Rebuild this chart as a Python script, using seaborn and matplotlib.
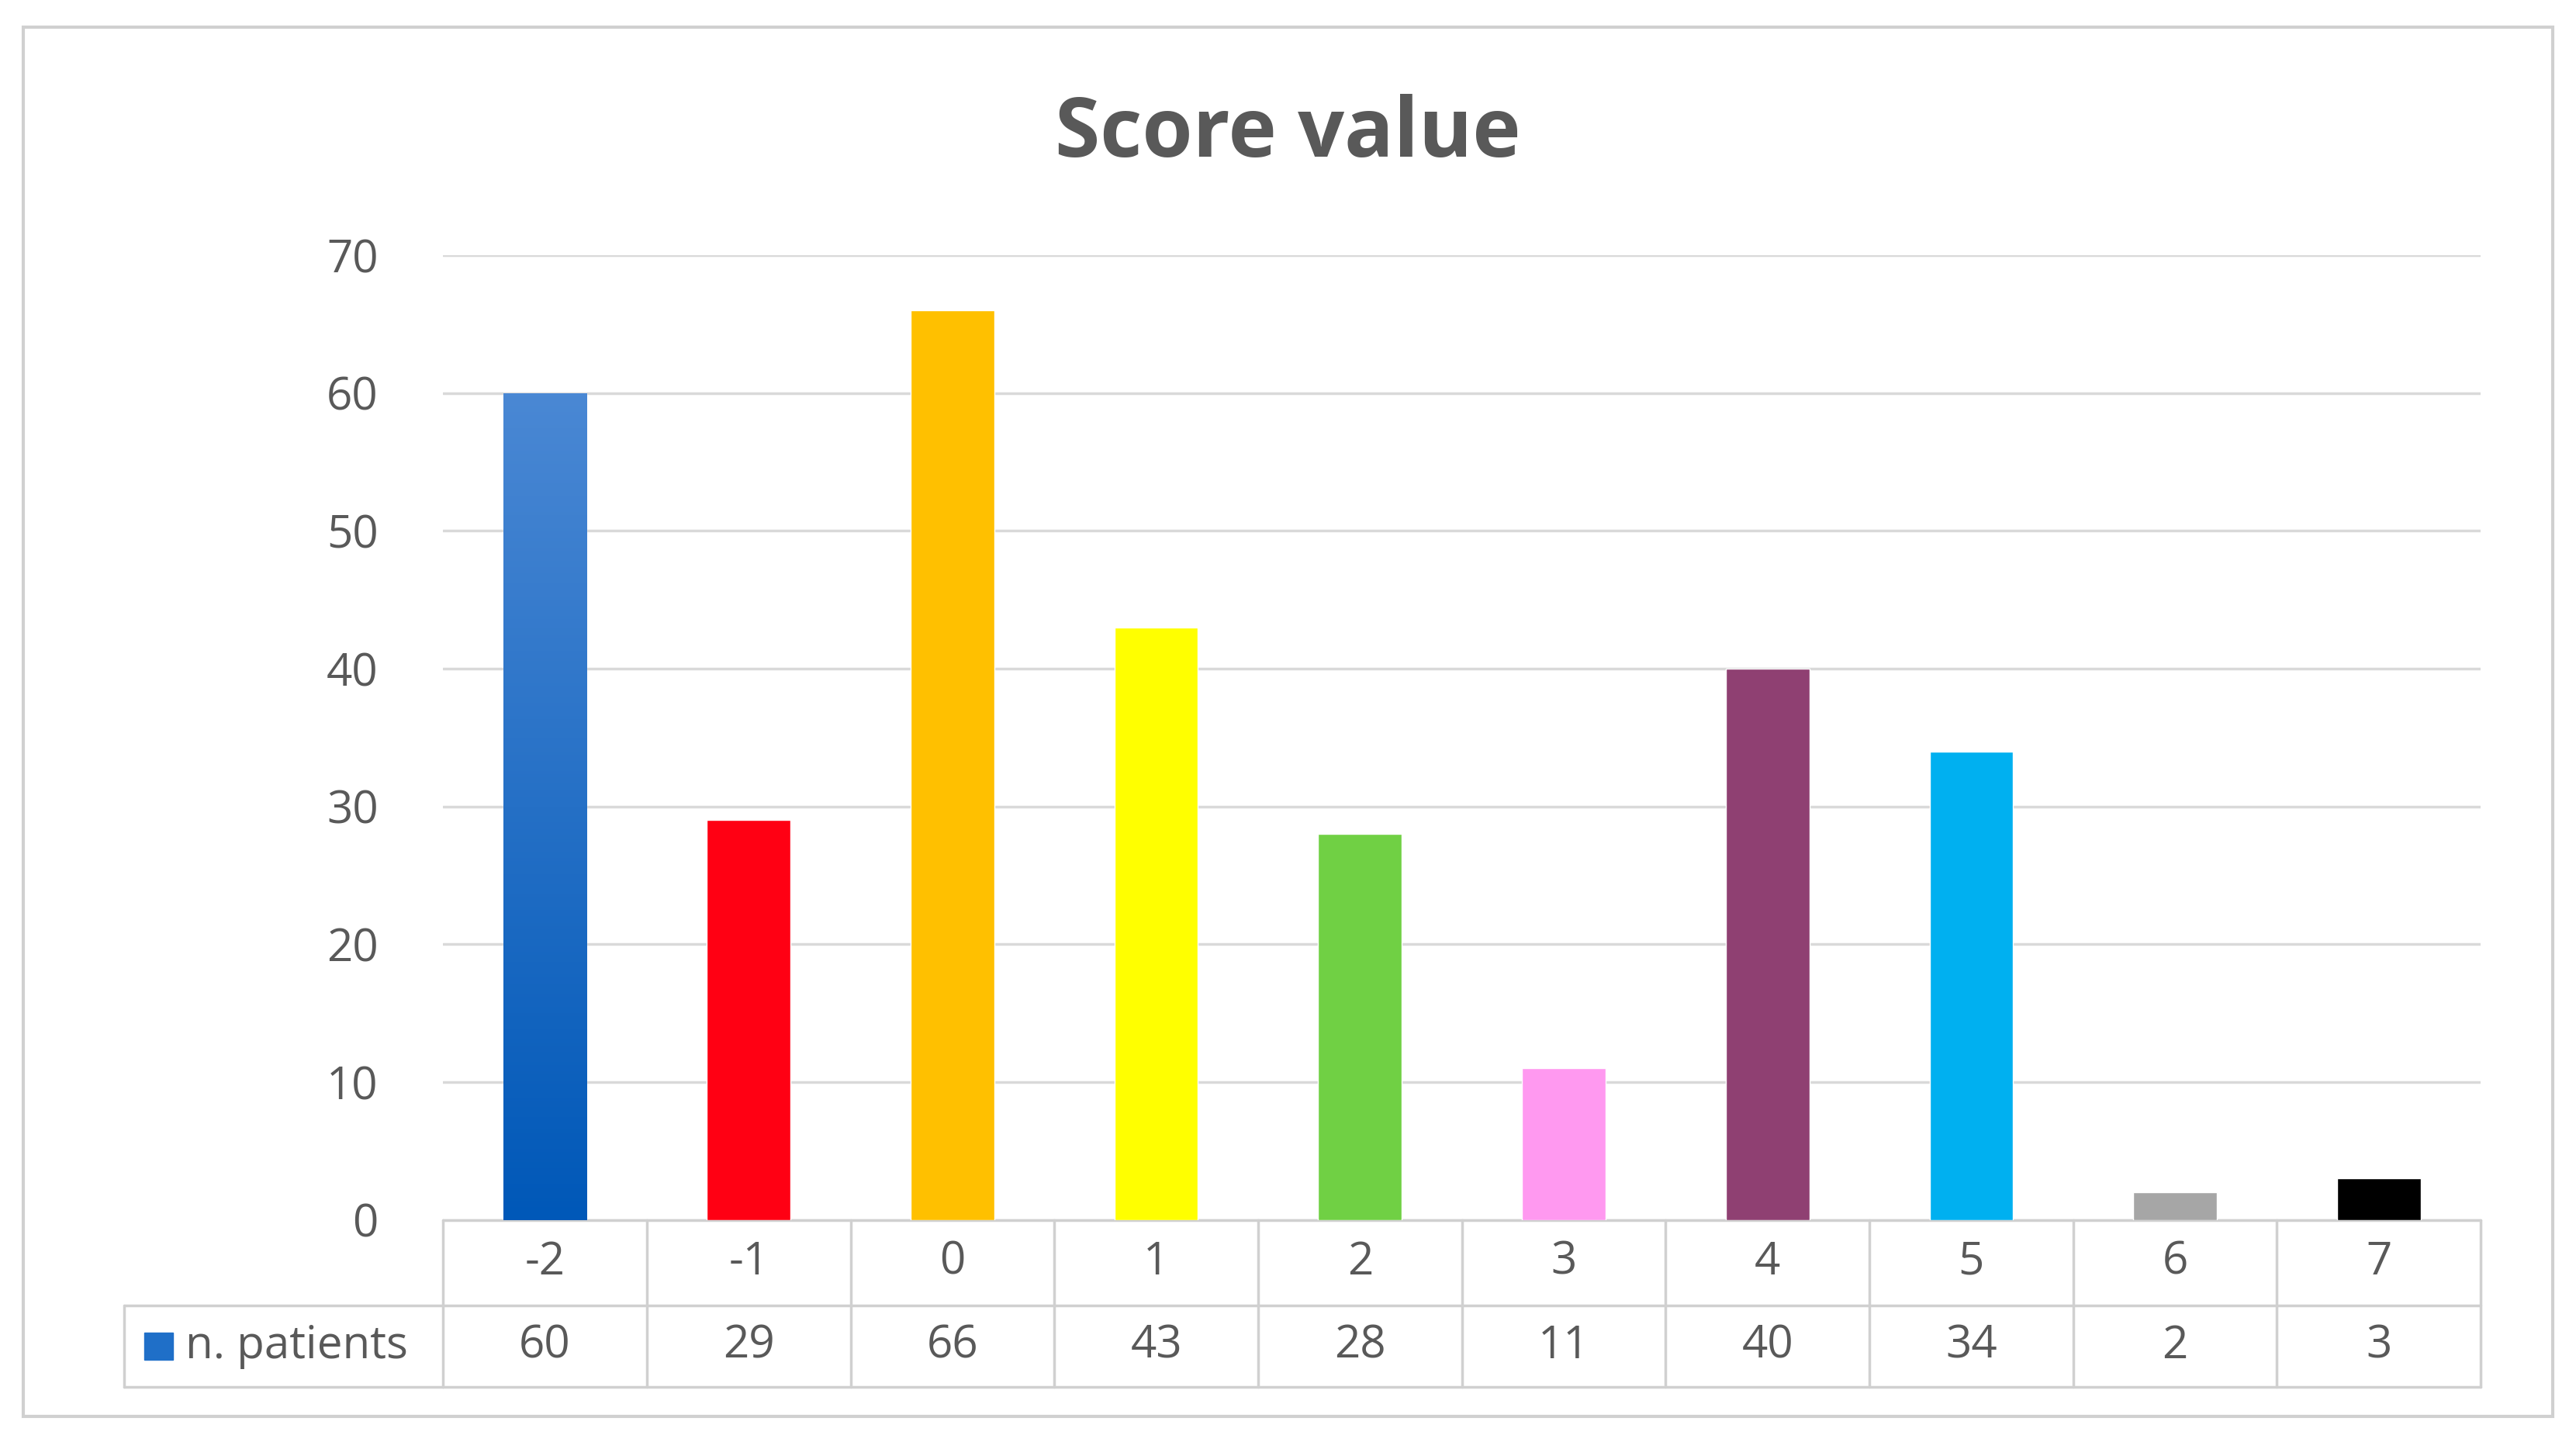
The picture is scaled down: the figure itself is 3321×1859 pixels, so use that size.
import matplotlib
matplotlib.use("Agg")
import matplotlib.pyplot as plt
import seaborn as sns
import numpy as np
import pandas as pd
from matplotlib.transforms import blended_transform_factory
from matplotlib.patches import Rectangle
from matplotlib.colors import LinearSegmentedColormap

categories = ["-2", "-1", "0", "1", "2", "3", "4", "5", "6", "7"]
values = [60, 29, 66, 43, 28, 11, 40, 34, 2, 3]
colors = ["#0f68c4", "#ff0013", "#ffc000", "#ffff00", "#70d044",
          "#ff99f0", "#8f4072", "#00b0f0", "#a6a6a6", "#000000"]
series_name = "n. patients"
title = "Score value"

sns.set_theme(style="white")
plt.rcParams['font.family'] = ['Open Sans', 'DejaVu Sans']
gray = "#595959"

fig = plt.figure(figsize=(33.21, 18.59), dpi=100)
fig.patches.append(Rectangle((0.009, 0.018), 0.982, 0.963, transform=fig.transFigure,
                             fill=False, edgecolor="#d0d0d0", linewidth=3))
ax = fig.add_axes([0.172, 0.154, 0.791, 0.669])
df = pd.DataFrame({"cat": categories, "val": values})
sns.barplot(data=df, x="cat", y="val", hue="cat", palette=colors, legend=False,
            width=0.41, ax=ax, saturation=1, zorder=3)
p0 = ax.patches[0]
grad = np.linspace(0, 1, 256).reshape(-1, 1)
cm = LinearSegmentedColormap.from_list("g", ["#0058b8", "#4a88d4"])
x0, w, h = p0.get_x(), p0.get_width(), p0.get_height()
im = ax.imshow(grad, cmap=cm, extent=[x0, x0 + w, 0, h], origin="lower",
               aspect="auto", zorder=4)
im.set_clip_path(p0)
ax.set_xlim(-0.5, len(categories) - 0.5)
ax.set_ylim(0, 70)
ax.set_yticks(range(0, 71, 10))
ax.yaxis.grid(True, color="#d9d9d9", linewidth=2.5, zorder=0)
ax.tick_params(axis="y", labelsize=42, labelcolor=gray, length=0, pad=60)
ax.set_xticks([])
ax.set_xlabel(""); ax.set_ylabel("")
for s in ax.spines.values():
    s.set_visible(False)
fig.suptitle(title, fontsize=76, fontweight="bold", color=gray, y=0.935)

tr = blended_transform_factory(ax.transData, ax.transAxes)
r1, r2 = -0.0884, -0.173
lc = "#d0d0d0"; lw = 2.5
n = len(categories)
ax.plot([-0.5, n - 0.5], [0, 0], transform=tr, color=lc, lw=lw, clip_on=False)
ax.plot([-0.5, n - 0.5], [r1, r1], transform=tr, color=lc, lw=lw, clip_on=False)
ax.plot([-0.5, n - 0.5], [r2, r2], transform=tr, color=lc, lw=lw, clip_on=False)
xl = -0.5 - 194 / 124
ax.plot([xl, -0.5], [r1, r1], transform=tr, color=lc, lw=lw, clip_on=False)
ax.plot([xl, -0.5], [r2, r2], transform=tr, color=lc, lw=lw, clip_on=False)
ax.plot([xl, xl], [r1, r2], transform=tr, color=lc, lw=lw, clip_on=False)
for i in range(n + 1):
    ax.plot([i - 0.5, i - 0.5], [0, r2], transform=tr, color=lc, lw=lw, clip_on=False)
for i, (c, v) in enumerate(zip(categories, values)):
    ax.text(i, r1 / 2, c, transform=tr, ha="center", va="center", fontsize=42, color=gray)
    ax.text(i, (r1 + r2) / 2, str(v), transform=tr, ha="center", va="center", fontsize=42, color=gray)
ax.add_patch(Rectangle((xl + 0.1, (r1 + r2) / 2 - 0.014), 0.14, 0.028, transform=tr,
                       color="#1f6fc8", clip_on=False))
ax.text(xl + 0.3, (r1 + r2) / 2, series_name, transform=tr, ha="left", va="center",
        fontsize=42, color=gray)

fig.savefig("out.png", dpi=100)
